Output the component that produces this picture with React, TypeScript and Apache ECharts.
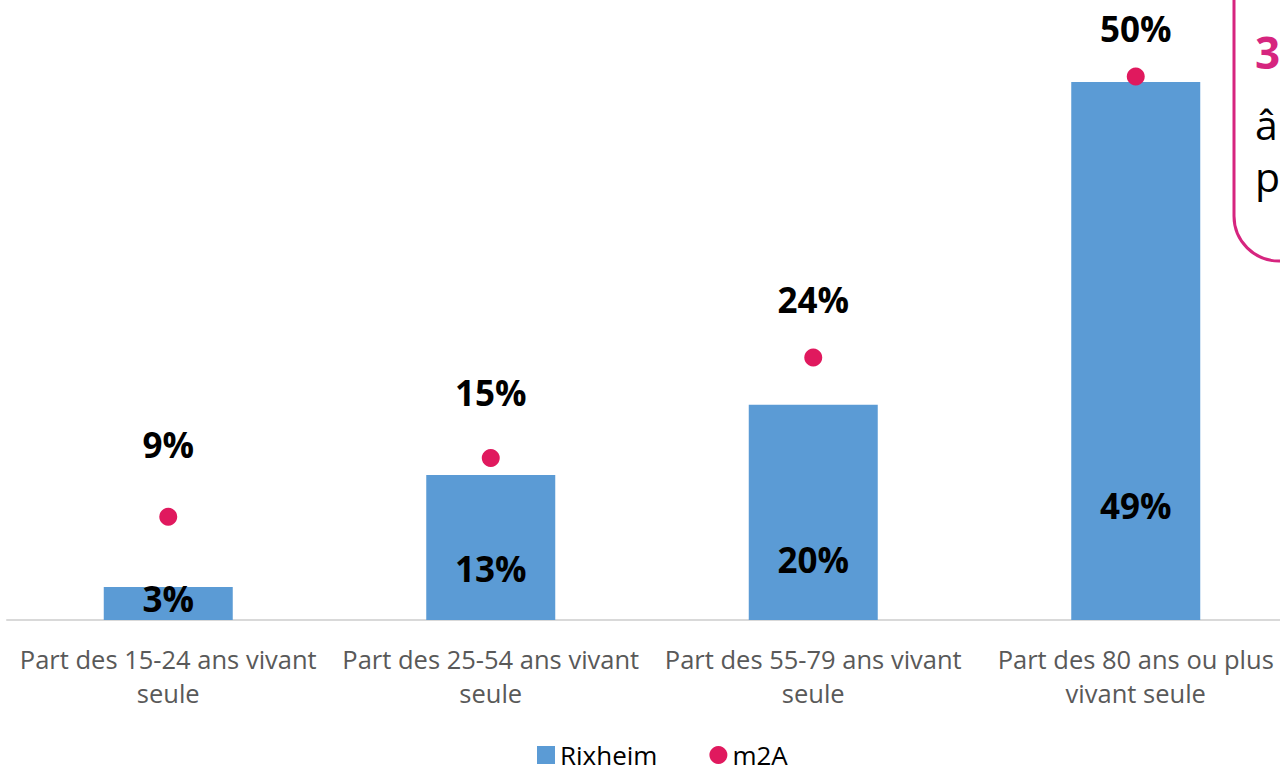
import React, { useEffect, useRef } from "react";
import * as echarts from "echarts";

const categories = [
  "Part des 15-24 ans vivant\nseule",
  "Part des 25-54 ans vivant\nseule",
  "Part des 55-79 ans vivant\nseule",
  "Part des 80 ans ou plus\nvivant seule",
];
const rixheim = [3.0, 13.2, 19.6, 49.0];
const m2a = [9.4, 14.75, 23.9, 49.5];

// label placement (manual offsets, as in the original)
const barLabelDistance = [4, 34, 43, 97];
const dotLabelDistance = [45, 39, 31, 21];

const FONT = "Open Sans";

export default function App() {
  const ref = useRef<HTMLDivElement>(null);
  useEffect(() => {
    if (!ref.current) return;
    const chart = echarts.init(ref.current, undefined, { renderer: "svg" });
    const fmt = (p: any) => Math.round(p.value) + "%";
    chart.setOption({
      animation: false,
      backgroundColor: "#ffffff",
      textStyle: { fontFamily: FONT },
      grid: { left: 7, top: 71, width: 1290, bottom: 152, containLabel: false },
      xAxis: {
        type: "category",
        data: categories,
        axisLine: { show: true, lineStyle: { color: "#d9d9d9", width: 2 } },
        axisTick: { show: false },
        axisLabel: {
          interval: 0,
          fontFamily: FONT,
          fontSize: 25.5,
          lineHeight: 34,
          color: "#595959",
          margin: 22,
        },
      },
      yAxis: {
        type: "value",
        min: 0,
        max: 50,
        show: false,
        splitLine: { show: false },
      },
      legend: {
        data: [
          { name: "Rixheim", icon: "rect" },
          { name: "m2A", icon: "circle" },
        ],
        left: 532,
        top: 737,
        itemWidth: 18,
        itemHeight: 18,
        itemGap: 52,
        textStyle: { fontFamily: FONT, fontSize: 26, color: "#000", lineHeight: 26 },
      },
      series: [
        {
          name: "Rixheim",
          type: "bar",
          barWidth: 129,
          itemStyle: { color: "#5b9bd5" },
          data: rixheim.map((v, i) => ({
            value: v,
            label: {
              show: true,
              position: "insideBottom",
              distance: barLabelDistance[i],
              formatter: fmt,
              fontFamily: FONT,
              fontWeight: "bold",
              fontSize: 35,
              lineHeight: 36,
              color: "#000",
            },
          })),
        },
        {
          name: "m2A",
          type: "scatter",
          symbol: "circle",
          symbolSize: 18,
          itemStyle: { color: "#e0195e", opacity: 1 },
          data: m2a.map((v, i) => ({
            value: v,
            label: {
              show: true,
              position: "top",
              distance: dotLabelDistance[i],
              formatter: fmt,
              fontFamily: FONT,
              fontWeight: "bold",
              fontSize: 35,
              lineHeight: 36,
              color: "#000",
            },
          })),
        },
      ],
      graphic: [
        {
          type: "rect",
          shape: { x: 1234, y: -60, width: 200, height: 321, r: 45 },
          style: { fill: "none", stroke: "#d6257f", lineWidth: 3 },
          z: 10,
        },
        {
          type: "text",
          x: 1255,
          y: 52,
          style: {
            text: "3",
            fill: "#d6257f",
            font: `bold 44px "${FONT}"`,
            verticalAlign: "middle",
          },
          z: 10,
        },
        {
          type: "text",
          x: 1255,
          y: 124,
          style: {
            text: "â",
            fill: "#000",
            font: `41px "${FONT}"`,
            verticalAlign: "middle",
          },
          z: 10,
        },
        {
          type: "text",
          x: 1255,
          y: 176,
          style: {
            text: "p",
            fill: "#000",
            font: `41px "${FONT}"`,
            verticalAlign: "middle",
          },
          z: 10,
        },
      ],
    });
    return () => chart.dispose();
  }, []);
  return (
    <div
      style={{
        position: "fixed",
        left: 0,
        top: 0,
        width: 1280,
        height: 772,
        overflow: "hidden",
      }}
    >
      <div ref={ref} style={{ width: 1304, height: 772 }} />
    </div>
  );
}
